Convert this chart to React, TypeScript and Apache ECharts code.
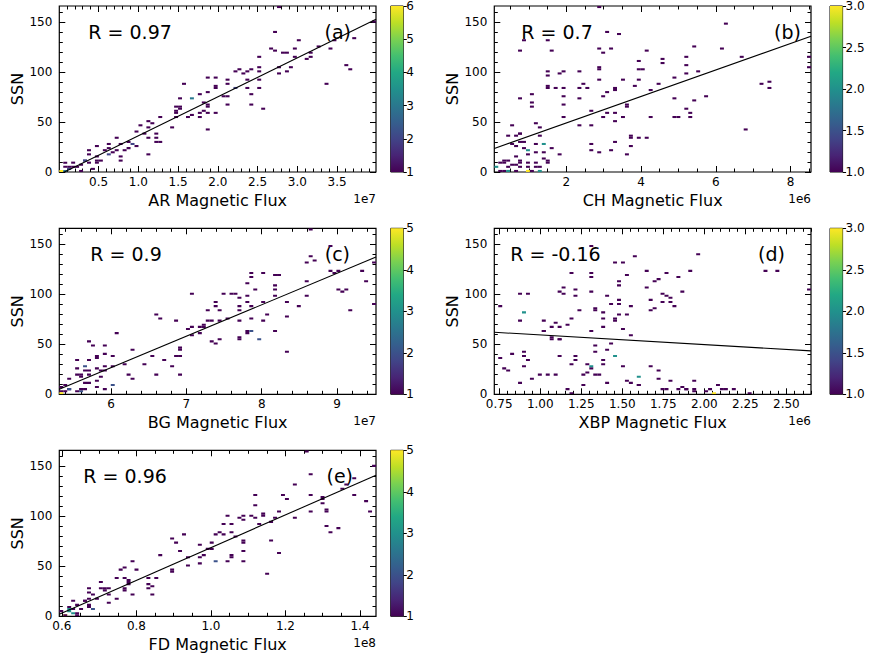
import React, { useEffect, useRef } from 'react';
import * as echarts from 'echarts';

const BINS = 80;
const SSN_MIN = 0;
const SSN_MAX = 166;
const VIRIDIS = ['#440154', '#482475', '#414487', '#355f8d', '#2a788e', '#21918c', '#22a884', '#44bf70', '#7ad151', '#bddf26', '#fde725'];

// tick labels
const SSN_TICKS = [0, 50, 100, 150];
const AR_TICKS = [0.5, 1.0, 1.5, 2.0, 2.5, 3.0, 3.5];
const CH_TICKS = [2, 4, 6, 8];
const BG_TICKS = [6, 7, 8, 9];
const XBP_TICKS = [0.75, 1.0, 1.25, 1.5, 1.75, 2.0, 2.25, 2.5];
const FD_TICKS = [0.6, 0.8, 1.0, 1.2, 1.4];
const CB_A = [1, 2, 3, 4, 5, 6];
const CB_B = [1, 1.5, 2, 2.5, 3];
const CB_C = [1, 2, 3, 4, 5];
const CB_D = [1, 1.5, 2, 2.5, 3];
const CB_E = [1, 2, 3, 4, 5];

// regression lines: SSN = slope * flux + intercept
const AR_FIT = [38.95, -2.7];
const CH_FIT = [13.24, 22.6];
const BG_FIT = [31.43, -161.9];
const XBP_FIT = [-9.66, 69.0];
const FD_FIT = [163.5, -94.8];

// 2D histogram cells: [flux, SSN, count]
const AR_CELLS = [
  [2.757, 165, 1], [2.732, 141, 1], [3.005, 131, 1], [2.678, 123, 1], [2.71, 122, 1], [2.803, 119, 1], [2.854, 120, 1],
  [2.971, 123, 1], [3.097, 113, 1], [3.172, 115, 1], [3.172, 120, 1], [3.244, 125, 1], [3.402, 123, 1], [3.453, 131, 1],
  [3.726, 133, 1], [3.37, 88, 1], [3.609, 106, 1], [3.684, 103, 1], [2.757, 105, 1], [2.757, 98, 1], [2.854, 100, 1],
  [2.929, 105, 1], [2.971, 115, 1], [2.509, 116, 1], [2.53, 105, 1], [2.53, 100, 1], [2.53, 93, 1], [2.405, 103, 1],
  [2.383, 100, 1], [2.383, 93, 1], [2.383, 83, 1], [2.417, 77, 1], [2.417, 67, 1], [2.497, 85, 1], [2.581, 64, 1],
  [2.216, 100, 1], [2.291, 102, 1], [2.32, 98, 1], [2.216, 83, 2], [2.132, 93, 1], [2.132, 88, 1], [2.132, 75, 1],
  [3.96, 151, 1], [1.986, 95, 1], [1.986, 87, 1], [1.986, 83, 1], [2.048, 75, 1], [2.103, 67, 1], [1.86, 95, 1],
  [1.86, 80, 1], [1.839, 70, 1], [1.867, 67, 1], [1.892, 65, 1], [1.826, 61, 1], [1.892, 43, 1], [1.977, 60, 1],
  [1.775, 77, 1], [1.587, 88, 1], [1.502, 73, 1], [1.533, 65, 1], [1.427, 44, 1], [1.691, 73, 3], [1.461, 65, 1],
  [1.461, 61, 1], [1.461, 60, 1], [1.495, 56, 1], [1.608, 55, 1], [1.684, 58, 1], [1.754, 59, 1], [1.797, 55, 1],
  [1.86, 59, 1], [1.536, 64, 1], [1.294, 54, 1], [1.138, 50, 1], [1.188, 49, 1], [1.222, 39, 1], [1.222, 34, 1],
  [1.222, 30, 1], [1.26, 30, 1], [1.146, 45, 1], [1.092, 39, 1], [1.02, 47, 1], [0.979, 40, 1], [1.105, 34, 1],
  [1.105, 17, 1], [0.936, 29, 2], [0.966, 26, 1], [0.866, 24, 1], [0.781, 29, 1], [0.74, 34, 1], [0.727, 21, 1],
  [0.769, 15, 1], [0.769, 11, 1], [0.697, 19, 1], [0.643, 29, 1], [0.643, 23, 1], [0.622, 18, 2], [0.58, 21, 1],
  [0.496, 26, 1], [0.496, 16, 1], [0.496, 12, 1], [0.539, 12, 1], [0.463, 10, 1], [0.391, 21, 1], [0.391, 17, 1],
  [0.391, 9, 1], [0.35, 12, 2], [0.307, 12, 2], [0.265, 8, 1], [0.224, 5, 1], [0.194, 9, 1], [0.161, 5, 1],
  [0.118, 5, 1], [0.077, 9, 1], [0.068, 5, 1], [0.035, 1, 6], [0.077, 1, 3], [0.118, 3, 2], [0.26, 1, 1],
  [0.45, 4, 1], [0.9, 30, 1], [0.85, 21, 1],
];

const CH_CELLS = [
  [2.83, 165, 1], [3.07, 141, 1], [3.43, 138, 1], [2.85, 123, 1], [3.16, 123, 1], [3.01, 119, 1], [0.87, 132, 1],
  [1.46, 131, 1], [0.72, 121, 1], [1.62, 121, 1], [4.16, 121, 1], [5.22, 115, 1], [4.61, 113, 1], [4.61, 108, 1],
  [3.93, 110, 1], [3.93, 103, 1], [4.08, 102, 1], [2.92, 105, 1], [2.92, 102, 1], [2.93, 93, 1], [2.35, 100, 1],
  [1.95, 101, 1], [1.82, 98, 1], [1.55, 100, 1], [1.55, 96, 1], [1.46, 87, 1], [1.55, 83, 1], [1.73, 83, 1],
  [1.91, 83, 1], [1.91, 75, 1], [1.91, 67, 1], [1.95, 55, 1], [2.35, 83, 1], [2.33, 73, 1], [2.44, 88, 1],
  [2.51, 85, 1], [2.66, 62, 1], [2.67, 47, 1], [2.4, 47, 1], [2.71, 29, 1], [2.71, 21, 1], [2.85, 19, 1],
  [2.98, 76, 1], [3.09, 80, 1], [3.32, 83, 1], [3.32, 81, 1], [3.12, 60, 1], [3.25, 60, 1], [2.99, 55, 1],
  [3.31, 50, 1], [3.31, 30, 1], [3.23, 22, 1], [3.5, 93, 1], [3.5, 55, 1], [3.65, 67, 1], [3.65, 65, 1],
  [3.74, 37, 1], [3.68, 35, 1], [3.73, 26, 1], [3.66, 17, 1], [3.83, 87, 1], [3.95, 93, 1], [3.94, 35, 1],
  [4.16, 35, 1], [4.24, 82, 1], [4.25, 54, 1], [4.43, 88, 1], [4.86, 55, 1], [5.04, 54, 1], [4.91, 73, 1],
  [4.94, 95, 1], [5.17, 64, 1], [5.26, 98, 1], [5.29, 56, 1], [5.35, 60, 1], [5.46, 72, 1], [5.45, 125, 1],
  [5.55, 100, 1], [5.22, 106, 1], [5.76, 75, 1], [6.21, 123, 1], [6.3, 149, 1], [6.66, 116, 1], [6.82, 42, 1],
  [7.24, 89, 1], [7.46, 90, 1], [7.46, 85, 1], [8.48, 104, 1], [8.52, 115, 1],
  [0.44, 37, 1], [0.74, 39, 1], [0.81, 39, 1], [0.52, 27, 1], [0.7, 26, 1], [0.72, 30, 1], [0.87, 30, 1],
  [1.01, 21, 2], [0.97, 17, 1], [0.83, 24, 1], [1.14, 29, 1], [1.19, 19, 1], [1.37, 29, 2], [1.44, 20, 1],
  [1.48, 12, 1], [1.62, 24, 1], [1.32, 45, 1], [1.82, 17, 1], [0.16, 5, 2], [0.19, 10, 1], [0.29, 12, 1],
  [0.38, 9, 1], [0.47, 5, 1], [0.47, 12, 1], [0.61, 16, 1], [0.58, 7, 1], [0.7, 7, 1], [0.79, 12, 1],
  [0.81, 9, 1], [0.79, 5, 1], [0.92, 9, 1], [0.96, 6, 1], [1.19, 10, 1], [1.19, 6, 1], [1.28, 6, 1],
  [1.39, 14, 1], [1.55, 9, 1], [0.2, 2, 1], [0.34, 2, 1], [0.47, 1, 2], [0.65, 1, 1], [0.94, 1, 3],
  [1.05, 1, 1], [1.32, 1, 2], [0.55, 47, 1], [1.1, 70, 1], [1.05, 65, 1], [0.81, 73, 1], [1.1, 77, 1],
  [1.28, 37, 1], [1.2, 48, 1], [0.65, 36, 1],
];

const BG_CELLS = [
  [8.65, 164, 1], [8.91, 149, 1], [8.58, 132, 1], [8.66, 139, 1], [8.72, 133, 1], [8.58, 114, 1], [8.5, 89, 1],
  [8.62, 98, 1], [8.91, 124, 1], [8.94, 121, 1], [9.03, 123, 1], [9.33, 123, 1], [9.41, 114, 1], [9.48, 131, 1],
  [9.48, 90, 1], [9.03, 105, 1], [9.08, 103, 1], [9.13, 105, 1], [9.2, 85, 1], [8.04, 121, 1], [8.17, 119, 1],
  [8.22, 119, 1], [8.16, 108, 1], [8.19, 105, 1], [8.18, 98, 1], [8.18, 63, 1], [8.33, 93, 1], [8.33, 77, 1],
  [8.33, 43, 1], [8.03, 93, 1], [8.07, 80, 1], [8.04, 73, 1], [7.89, 104, 1], [7.86, 121, 1], [7.86, 117, 1],
  [7.79, 110, 1], [7.81, 99, 1], [7.81, 93, 1], [7.87, 89, 1], [7.88, 75, 1], [7.83, 64, 1], [7.83, 61, 1],
  [7.86, 63, 2], [7.98, 55, 2], [7.73, 89, 1], [7.71, 84, 1], [7.65, 100, 1], [7.6, 100, 1], [7.72, 96, 1],
  [7.68, 74, 1], [7.73, 57, 1], [7.73, 55, 1], [7.49, 100, 1], [7.45, 73, 1], [7.57, 76, 1], [7.41, 89, 1],
  [7.41, 93, 1], [7.43, 83, 1], [7.27, 83, 1], [7.28, 73, 1], [7.33, 73, 1], [7.4, 51, 1], [7.43, 55, 1],
  [7.32, 53, 1], [7.24, 70, 1], [7.24, 68, 1], [7.18, 68, 1], [7.18, 61, 1], [7.1, 68, 1], [7.1, 59, 1],
  [7.06, 101, 1], [7.03, 65, 1], [6.9, 47, 1], [6.9, 44, 1], [6.92, 39, 1], [6.93, 20, 1], [6.85, 38, 1],
  [6.89, 73, 1], [6.82, 29, 1], [6.73, 34, 1], [6.67, 76, 1], [6.6, 80, 1], [6.56, 39, 1], [6.6, 20, 1],
  [6.43, 30, 1], [6.3, 45, 1], [6.27, 16, 1], [6.21, 20, 1], [6.2, 30, 1], [6.09, 61, 1], [6.02, 29, 1],
  [6.02, 39, 1], [6.03, 9, 2], [5.94, 23, 1], [5.94, 49, 1], [5.94, 40, 1], [5.9, 29, 1], [5.88, 18, 1],
  [5.94, 6, 1], [5.85, 24, 1], [5.82, 25, 1], [5.82, 36, 1], [5.81, 38, 1], [5.81, 13, 1], [5.77, 48, 1],
  [5.73, 53, 1], [5.73, 35, 1], [5.73, 24, 1], [5.73, 19, 1], [5.7, 11, 1], [5.68, 28, 2], [5.68, 23, 1],
  [5.68, 11, 1], [5.63, 19, 1], [5.63, 17, 1], [5.56, 34, 1], [5.53, 25, 1], [5.56, 19, 1], [5.44, 16, 1],
  [5.44, 6, 1], [5.46, 5, 2], [5.4, 9, 1], [5.33, 8, 1], [5.35, 3, 1], [5.53, 3, 1], [5.59, 3, 2],
  [5.63, 6, 1], [5.68, 6, 1], [5.82, 7, 1], [5.33, 1, 5], [5.4, 3, 1],
];

const XBP_CELLS = [
  [1.57, 139, 1], [1.45, 131, 1], [1.51, 131, 1], [1.3, 149, 1], [1.2, 121, 1], [1.3, 122, 1], [1.3, 118, 1],
  [1.53, 119, 1], [1.65, 124, 1], [1.7, 114, 1], [1.71, 115, 1], [1.78, 122, 1], [1.84, 118, 1], [1.91, 123, 1],
  [1.97, 141, 1], [2.37, 123, 1], [2.45, 123, 1], [2.64, 105, 1], [1.64, 106, 1], [1.68, 95, 1], [1.74, 101, 1],
  [1.78, 98, 1], [1.8, 96, 1], [1.82, 89, 1], [1.74, 93, 1], [1.8, 93, 1], [1.87, 103, 1], [1.69, 86, 1],
  [1.67, 85, 1], [1.56, 89, 1], [1.54, 80, 1], [1.49, 80, 1], [1.45, 75, 1], [1.46, 73, 1], [1.51, 65, 1],
  [1.55, 60, 1], [1.47, 94, 1], [1.47, 91, 1], [1.43, 91, 1], [1.41, 98, 1], [1.47, 109, 1], [1.47, 114, 1],
  [1.31, 103, 1], [1.21, 105, 1], [1.21, 99, 1], [1.14, 107, 1], [1.14, 101, 1], [1.12, 102, 1], [1.24, 83, 1],
  [1.33, 86, 1], [1.33, 83, 1], [1.39, 81, 1], [1.39, 75, 1], [1.39, 68, 1], [1.31, 63, 1], [1.18, 75, 1],
  [1.17, 69, 1], [1.13, 67, 1], [1.1, 71, 1], [1.07, 67, 1], [1.03, 73, 1], [1.01, 64, 1], [1.03, 63, 1],
  [1.06, 58, 1], [1.07, 54, 1], [1.12, 56, 1], [1.13, 54, 1], [1.12, 38, 1], [1.18, 31, 1], [1.21, 35, 1],
  [1.22, 38, 1], [1.28, 31, 1], [1.28, 21, 1], [1.27, 19, 1], [1.27, 10, 1], [1.3, 25, 1], [1.31, 29, 2],
  [1.33, 43, 1], [1.33, 48, 1], [1.34, 20, 1], [1.36, 20, 1], [1.39, 34, 1], [1.39, 30, 1], [1.41, 45, 1],
  [1.41, 11, 1], [1.44, 51, 1], [1.45, 39, 2], [1.5, 29, 1], [1.53, 13, 1], [1.55, 12, 1], [1.6, 18, 2],
  [1.61, 9, 1], [1.59, 9, 1], [1.68, 28, 1], [1.72, 23, 1], [1.72, 15, 1], [1.79, 13, 1], [1.74, 5, 1],
  [1.78, 5, 1], [1.84, 6, 1], [1.86, 7, 1], [1.88, 5, 1], [1.9, 5, 1], [1.95, 13, 1], [1.94, 5, 1],
  [1.95, 3, 1], [2.01, 3, 1], [2.04, 5, 1], [2.06, 1, 3], [2.09, 9, 1], [2.11, 5, 1], [2.14, 5, 1],
  [2.18, 5, 1], [0.76, 89, 1], [0.76, 37, 1], [0.78, 26, 1], [0.8, 24, 1], [0.83, 40, 1], [0.88, 101, 1],
  [0.88, 73, 1], [0.88, 11, 1], [0.91, 82, 2], [0.91, 43, 1], [0.91, 38, 1], [0.91, 27, 1], [0.93, 100, 1],
  [0.93, 34, 1], [0.95, 16, 1], [1.0, 19, 1], [1.04, 20, 1], [1.1, 20, 1], [1.16, 5, 1], [1.19, 1, 1],
  [2.28, 1, 1],
];

const FD_CELLS = [
  [1.257, 165, 1], [1.271, 142, 1], [1.229, 132, 1], [1.189, 122, 1], [1.204, 118, 1], [1.12, 122, 1], [1.12, 110, 1],
  [1.111, 100, 1], [1.12, 99, 1], [1.137, 103, 1], [1.137, 100, 1], [1.126, 93, 1], [1.16, 94, 1], [1.164, 76, 1],
  [1.169, 99, 1], [1.178, 64, 1], [1.146, 42, 1], [1.186, 104, 1], [1.229, 99, 1], [1.263, 122, 1], [1.263, 104, 1],
  [1.295, 113, 1], [1.299, 118, 1], [1.306, 107, 1], [1.315, 104, 1], [1.315, 90, 1], [1.317, 84, 1], [1.338, 89, 1],
  [1.35, 128, 1], [1.367, 131, 1], [1.382, 122, 1], [1.417, 115, 1], [1.43, 104, 1], [1.089, 100, 1], [1.089, 96, 1],
  [1.089, 76, 1], [1.089, 74, 1], [1.089, 65, 1], [1.089, 56, 1], [1.077, 98, 1], [1.071, 80, 1], [1.053, 92, 1],
  [1.047, 101, 1], [1.058, 83, 1], [1.055, 62, 1], [1.058, 60, 1], [1.04, 56, 1], [1.038, 82, 1], [1.029, 92, 1],
  [1.022, 85, 1], [1.015, 82, 1], [1.011, 56, 2], [1.004, 67, 1], [0.994, 68, 1], [1.004, 73, 1], [0.986, 61, 1],
  [0.969, 53, 1], [0.967, 60, 1], [0.967, 72, 1], [0.942, 59, 1], [0.936, 51, 1], [0.929, 82, 1], [0.908, 74, 1],
  [0.899, 77, 1], [0.917, 66, 1], [0.895, 47, 1], [0.891, 44, 1], [0.859, 61, 1], [0.851, 38, 1], [0.844, 21, 1],
  [0.843, 31, 1], [0.829, 39, 1], [0.827, 28, 1], [0.834, 33, 1], [0.8, 46, 1], [0.791, 54, 1], [0.785, 21, 1],
  [0.784, 34, 1], [0.783, 36, 1], [0.778, 32, 1], [0.772, 38, 1], [0.769, 49, 1], [0.769, 26, 1], [0.765, 29, 1],
  [0.757, 47, 1], [0.748, 18, 1], [0.742, 39, 1], [0.731, 13, 1], [0.725, 28, 1], [0.725, 22, 1], [0.72, 29, 1],
  [0.718, 25, 1], [0.705, 34, 1], [0.705, 29, 1], [0.693, 18, 1], [0.682, 21, 1], [0.676, 28, 1], [0.674, 23, 1],
  [0.674, 18, 1], [0.67, 10, 1], [0.676, 12, 1], [0.683, 8, 2], [0.665, 16, 1], [0.658, 16, 1], [0.651, 8, 1],
  [0.64, 11, 1], [0.633, 16, 1], [0.63, 8, 1], [0.622, 10, 1], [0.618, 8, 3], [0.618, 5, 3], [0.63, 3, 3],
  [0.636, 3, 1], [0.609, 2, 5], [0.605, 2, 1], [0.6, 5, 1], [0.636, 1, 1], [1.382, 137, 1], [1.438, 150, 1],
  [1.3, 120, 1],
];

const PANELS = [
  { cells: AR_CELLS, xMin: 0.005, xMax: 3.99, ticks: AR_TICKS, minorStep: 0.1, digits: 1, exp: '1e7', name: 'AR Magnetic Flux',
    fit: AR_FIT, r: 'R = 0.97', tag: '(a)', cb: CB_A, cbDigits: 0, left: 59.3, top: 6, cbGap: 331.4, rDx: 29, tagDx: 25 },
  { cells: CH_CELLS, xMin: 0.07, xMax: 8.55, ticks: CH_TICKS, minorStep: 0.5, digits: 0, exp: '1e6', name: 'CH Magnetic Flux',
    fit: CH_FIT, r: 'R = 0.7', tag: '(b)', cb: CB_B, cbDigits: 1, left: 494.3, top: 6, cbGap: 335.7, rDx: 27, tagDx: 10 },
  { cells: BG_CELLS, xMin: 5.315, xMax: 9.516, ticks: BG_TICKS, minorStep: 0.2, digits: 0, exp: '1e7', name: 'BG Magnetic Flux',
    fit: BG_FIT, r: 'R = 0.9', tag: '(c)', cb: CB_C, cbDigits: 0, left: 59.3, top: 228.3, cbGap: 331.4, rDx: 31, tagDx: 26 },
  { cells: XBP_CELLS, xMin: 0.72, xMax: 2.65, ticks: XBP_TICKS, minorStep: 0.05, digits: 2, exp: '1e6', name: 'XBP Magnetic Flux',
    fit: XBP_FIT, r: 'R = -0.16', tag: '(d)', cb: CB_D, cbDigits: 1, left: 494.3, top: 228.3, cbGap: 335.7, rDx: 16, tagDx: 26 },
  { cells: FD_CELLS, xMin: 0.593, xMax: 1.443, ticks: FD_TICKS, minorStep: 0.05, digits: 1, exp: '1e8', name: 'FD Magnetic Flux',
    fit: FD_FIT, r: 'R = 0.96', tag: '(e)', cb: CB_E, cbDigits: 0, left: 59.3, top: 450.3, cbGap: 331.4, rDx: 24, tagDx: 23 },
];

const PW = 316.7;
const PH = 166;
const CBW = 12.6;
const FONT = 'DejaVu Sans';
const BLACK = '#000';

function stepValues(min: number, max: number, step: number) {
  const out: number[] = [];
  const start = Math.ceil(min / step - 1e-6);
  for (let k = start; k * step <= max + 1e-9; k++) out.push(Math.round(k * step * 1e6) / 1e6);
  return out;
}

function buildOption() {
  const grid: any[] = [];
  const xAxis: any[] = [];
  const yAxis: any[] = [];
  const series: any[] = [];
  const visualMap: any[] = [];
  const graphic: any[] = [];
  const tickStyle = { color: BLACK, width: 1 };

  PANELS.forEach((p) => {
    const gi = grid.length;
    grid.push({ left: p.left, top: p.top, width: PW, height: PH, show: true, borderColor: BLACK, borderWidth: 1.2, backgroundColor: 'transparent', containLabel: false });
    const xMinor = stepValues(p.xMin, p.xMax, p.minorStep);
    const yMinor = stepValues(SSN_MIN, SSN_MAX, 10);
    const baseX = { gridIndex: gi, type: 'value', min: p.xMin, max: p.xMax, splitLine: { show: false }, axisLine: { show: false, onZero: false } };
    const baseY = { gridIndex: gi, type: 'value', min: SSN_MIN, max: SSN_MAX, splitLine: { show: false }, axisLine: { show: false, onZero: false } };
    const xi = xAxis.length;
    xAxis.push({
      ...baseX, position: 'bottom',
      axisTick: { show: true, inside: true, length: 6, customValues: p.ticks, lineStyle: tickStyle },
      axisLabel: { customValues: p.ticks, formatter: (v: number) => v.toFixed(p.digits), color: BLACK, fontSize: 12, fontFamily: FONT, margin: 4 },
      name: p.name, nameLocation: 'middle', nameGap: 20, nameTextStyle: { fontSize: 16, fontFamily: FONT, color: BLACK },
    });
    xAxis.push({ ...baseX, position: 'bottom', axisTick: { show: true, inside: true, length: 3.5, customValues: xMinor, lineStyle: tickStyle }, axisLabel: { show: false } });
    xAxis.push({ ...baseX, position: 'top', axisTick: { show: true, inside: true, length: 6, customValues: p.ticks, lineStyle: tickStyle }, axisLabel: { show: false } });
    xAxis.push({ ...baseX, position: 'top', axisTick: { show: true, inside: true, length: 3.5, customValues: xMinor, lineStyle: tickStyle }, axisLabel: { show: false } });
    const yi = yAxis.length;
    yAxis.push({
      ...baseY, position: 'left',
      axisTick: { show: true, inside: true, length: 6, customValues: SSN_TICKS, lineStyle: tickStyle },
      axisLabel: { customValues: SSN_TICKS, color: BLACK, fontSize: 12, fontFamily: FONT, margin: 7 },
      name: 'SSN', nameLocation: 'middle', nameGap: 33, nameRotate: 90, nameTextStyle: { fontSize: 16, fontFamily: FONT, color: BLACK },
    });
    yAxis.push({ ...baseY, position: 'left', axisTick: { show: true, inside: true, length: 3.5, customValues: yMinor, lineStyle: tickStyle }, axisLabel: { show: false } });
    yAxis.push({ ...baseY, position: 'right', axisTick: { show: true, inside: true, length: 6, customValues: SSN_TICKS, lineStyle: tickStyle }, axisLabel: { show: false } });
    yAxis.push({ ...baseY, position: 'right', axisTick: { show: true, inside: true, length: 3.5, customValues: yMinor, lineStyle: tickStyle }, axisLabel: { show: false } });

    const dx = (p.xMax - p.xMin) / BINS;
    const dy = (SSN_MAX - SSN_MIN) / BINS;
    const heatIndex = series.length;
    series.push({
      type: 'custom', xAxisIndex: xi, yAxisIndex: yi, clip: true, silent: true,
      encode: { x: 0, y: 1 },
      data: p.cells,
      renderItem: (params: any, api: any) => {
        const vx = api.value(0);
        const vy = api.value(1);
        const i = Math.min(BINS - 1, Math.max(0, Math.floor((vx - p.xMin) / dx)));
        const j = Math.min(BINS - 1, Math.max(0, Math.floor((vy - SSN_MIN) / dy)));
        const a = api.coord([p.xMin + i * dx, SSN_MIN + j * dy]);
        const b = api.coord([p.xMin + (i + 1) * dx, SSN_MIN + (j + 1) * dy]);
        return { type: 'rect', shape: { x: a[0], y: b[1], width: b[0] - a[0], height: a[1] - b[1] }, style: { fill: api.visual('color') } };
      },
    });
    visualMap.push({ type: 'continuous', show: false, min: p.cb[0], max: p.cb[p.cb.length - 1], dimension: 2, seriesIndex: heatIndex, inRange: { color: VIRIDIS } });

    series.push({
      type: 'line', xAxisIndex: xi, yAxisIndex: yi, symbol: 'none', silent: true, clip: true,
      lineStyle: { color: BLACK, width: 1.1 },
      data: [[p.xMin, p.fit[0] * p.xMin + p.fit[1]], [p.xMax, p.fit[0] * p.xMax + p.fit[1]]],
    });

    // colorbar
    const cg = grid.length;
    grid.push({ left: p.left + p.cbGap, top: p.top, width: CBW, height: PH, show: true, borderColor: BLACK, borderWidth: 1, backgroundColor: 'transparent' });
    const cxi = xAxis.length;
    xAxis.push({ gridIndex: cg, type: 'value', min: 0, max: 1, show: false });
    const cyi = yAxis.length;
    const cbMin = p.cb[0];
    const cbMax = p.cb[p.cb.length - 1];
    yAxis.push({
      gridIndex: cg, type: 'value', min: cbMin, max: cbMax, position: 'right', splitLine: { show: false },
      axisLine: { show: false, onZero: false },
      axisTick: { show: true, inside: false, length: 3.5, customValues: p.cb, lineStyle: tickStyle },
      axisLabel: { customValues: p.cb, formatter: (v: number) => v.toFixed(p.cbDigits), color: BLACK, fontSize: 12, fontFamily: FONT, margin: 3 },
    });
    series.push({
      type: 'custom', xAxisIndex: cxi, yAxisIndex: cyi, silent: true, clip: false,
      data: [[0, cbMin]],
      renderItem: (params: any, api: any) => {
        const a = api.coord([0, cbMin]);
        const b = api.coord([1, cbMax]);
        const stops = VIRIDIS.map((c, k) => ({ offset: k / (VIRIDIS.length - 1), color: c }));
        return {
          type: 'rect', shape: { x: a[0], y: b[1], width: b[0] - a[0], height: a[1] - b[1] },
          style: { fill: new echarts.graphic.LinearGradient(0, 1, 0, 0, stops) },
        };
      },
    });

    graphic.push({ type: 'text', left: p.left + p.rDx, top: p.top + 16, style: { text: p.r, fontSize: 19, fontFamily: FONT, fill: BLACK } });
    graphic.push({ type: 'text', right: 874 - (p.left + PW - p.tagDx), top: p.top + 16, style: { text: p.tag, fontSize: 19, fontFamily: FONT, fill: BLACK } });
    graphic.push({ type: 'text', right: 874 - (p.left + PW), top: p.top + PH + 21, style: { text: p.exp, fontSize: 12, fontFamily: FONT, fill: BLACK } });
  });

  return {
    animation: false,
    backgroundColor: '#fff',
    textStyle: { fontFamily: FONT },
    grid, xAxis, yAxis, series, visualMap, graphic,
  };
}

export default function App() {
  const ref = useRef<HTMLDivElement>(null);
  useEffect(() => {
    if (!ref.current) return;
    const chart = echarts.init(ref.current, undefined, { renderer: 'svg' });
    chart.setOption(buildOption() as any);
    return () => chart.dispose();
  }, []);
  return <div ref={ref} style={{ position: 'fixed', left: 0, top: 0, width: 874, height: 661, background: '#fff' }} />;
}
